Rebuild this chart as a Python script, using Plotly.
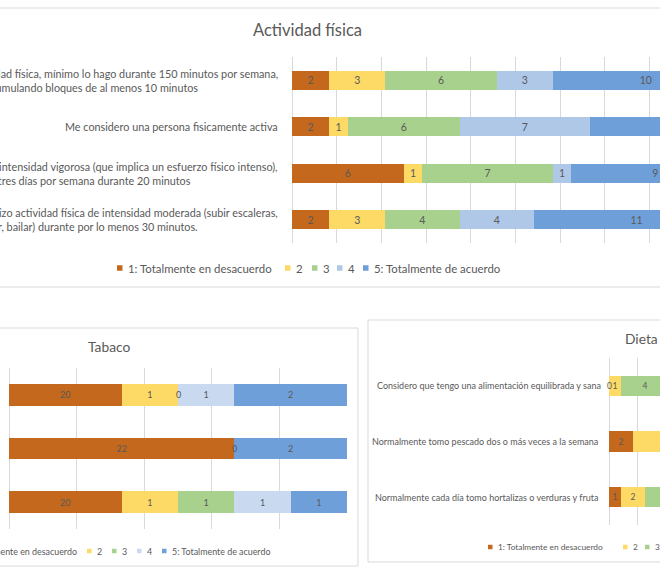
import plotly.graph_objects as go

W, H = 660, 577
FONT = 'Lato'
GRIS = '#595959'
LINEA = '#d9d9d9'

niveles = ['1: Totalmente en desacuerdo', '2', '3', '4', '5: Totalmente de acuerdo']
colores = ['#c4681d', '#fdd966', '#a9d18e', '#b0c8e8', '#6f9fd8']
colores_tabaco = ['#c4681d', '#fdd966', '#a9d18e', '#c9daf0', '#6f9fd8']

# Actividad física (filas de arriba abajo)
act_textos = [
    ['Cuando hago actividad física, mínimo lo hago durante 150 minutos por semana,',
     'acumulando bloques de al menos 10 minutos'],
    ['Me considero una persona fisicamente activa'],
    ['Realizo actividad física de intensidad vigorosa (que implica un esfuerzo físico intenso),',
     'al menos tres días por semana durante 20 minutos'],
    ['Realizo actividad física de intensidad moderada (subir escaleras,',
     'caminar, nadar, bailar) durante por lo menos 30 minutos.'],
]
act_1 = [2, 2, 6, 2]
act_2 = [3, 1, 1, 3]
act_3 = [6, 6, 7, 4]
act_4 = [3, 7, 1, 4]
act_5 = [10, 8, 9, 11]

# Tabaco: largo de cada tramo y número que muestra la etiqueta
tab_largo_1 = [2, 4, 2]
tab_largo_2 = [1, None, 1]
tab_largo_3 = [0, None, 1]
tab_largo_4 = [1, 0, 1]
tab_largo_5 = [2, 2, 1]
tab_etiq_1 = [20, 22, 20]
tab_etiq_2 = [1, None, 1]
tab_etiq_3 = [0, None, 1]
tab_etiq_4 = [1, 0, 1]
tab_etiq_5 = [2, 2, 1]

# Dieta
die_textos = [
    'Considero que tengo una alimentación equilibrada y sana',
    'Normalmente tomo pescado dos o más veces a la semana',
    'Normalmente cada día tomo hortalizas o verduras y fruta',
]
die_1 = [0, 2, 1]
die_2 = [1, 5, 2]
die_3 = [4, 6, 6]
die_4 = [11, 6, 8]
die_5 = [8, 5, 7]


def px(x):
    return x / W


def py(y):
    return 1 - y / H


fig = go.Figure()


def barras(largos, etiquetas, n, xa, ya, cols, ancho, tam):
    for k in range(5):
        fig.add_trace(go.Bar(
            x=largos[k], y=list(range(n)), orientation='h',
            name=niveles[k], marker=dict(color=cols[k], line=dict(width=0)),
            text=[('' if (v is None or v == 0) else str(e))
                  for v, e in zip(largos[k], etiquetas[k])],
            textposition='inside', insidetextanchor='middle',
            constraintext='none', textangle=0,
            textfont=dict(family=FONT, size=tam, color=GRIS),
            width=ancho, xaxis=xa, yaxis=ya, showlegend=False,
        ))
    # las etiquetas "0" van encima, en el borde donde empieza el tramo vacío
    for r in range(n):
        fila = [(largos[k][r] or 0) for k in range(5)]
        for k in range(5):
            if largos[k][r] == 0:
                fig.add_annotation(
                    x=sum(fila[:k]) / sum(fila) * 100, y=r,
                    xref=xa, yref=ya, text=str(etiquetas[k][r]), showarrow=False,
                    xanchor='center', yanchor='middle',
                    font=dict(family=FONT, size=tam, color=GRIS))


act = [act_1, act_2, act_3, act_4, act_5]
barras(act, act, 4, 'x', 'y', colores, 0.4, 10.5)
barras([tab_largo_1, tab_largo_2, tab_largo_3, tab_largo_4, tab_largo_5],
       [tab_etiq_1, tab_etiq_2, tab_etiq_3, tab_etiq_4, tab_etiq_5],
       3, 'x2', 'y2', colores_tabaco, 0.4, 9)
die = [die_1, die_2, die_3, die_4, die_5]
barras(die, die, 3, 'x3', 'y3', colores, 0.37, 8.5)

eje_x = dict(showgrid=True, gridcolor=LINEA, gridwidth=1, zeroline=True,
             zerolinecolor=LINEA, zerolinewidth=1, showticklabels=False,
             ticks='', showline=False, tick0=0)
eje_y = dict(type='linear', showgrid=False, zeroline=False, showticklabels=False,
             showline=False, ticks='')

fig.update_layout(
    width=W, height=H,
    margin=dict(l=0, r=0, t=0, b=0),
    paper_bgcolor='white', plot_bgcolor='white',
    barmode='stack', barnorm='percent',
    font=dict(family=FONT, color=GRIS),
    xaxis=dict(eje_x, domain=[px(292), 1], range=[0, (W - 292) / 447 * 100], dtick=10),
    yaxis=dict(eje_y, domain=[py(243), py(57)], range=[3.5, -0.5]),
    xaxis2=dict(eje_x, domain=[px(9), px(347)], range=[0, 100], dtick=20, anchor='y2'),
    yaxis2=dict(eje_y, domain=[py(529), py(368)], range=[2.5, -0.5], anchor='x2'),
    xaxis3=dict(eje_x, domain=[px(609), 1], range=[0, (W - 609) / 288 * 100], dtick=10, anchor='y3'),
    yaxis3=dict(eje_y, domain=[py(525), py(358)], range=[2.5, -0.5], anchor='x3'),
)

# marcos de los gráficos
marcos = [(-20, 8, 700, 287), (-20, 328, 358, 566), (368, 320, 700, 562)]
for x0, y0, x1, y1 in marcos:
    fig.add_shape(type='rect', xref='paper', yref='paper',
                  x0=px(x0), x1=px(x1), y0=py(y0), y1=py(y1),
                  line=dict(color=LINEA, width=1), fillcolor='rgba(0,0,0,0)', layer='below')

# títulos
fig.add_annotation(text='Actividad física', x=px(307), y=py(30), xref='paper', yref='paper',
                   showarrow=False, xanchor='center', yanchor='middle',
                   font=dict(size=16.5, color=GRIS))
fig.add_annotation(text='Tabaco', x=px(109), y=py(346), xref='paper', yref='paper',
                   showarrow=False, xanchor='center', yanchor='middle',
                   font=dict(size=13.8, color=GRIS))
fig.add_annotation(text='Dieta', x=px(623), y=py(338), xref='paper', yref='paper',
                   showarrow=False, xanchor='left', yanchor='middle',
                   font=dict(size=13.8, color=GRIS))

# etiquetas de categoría
act_fin = [[280, 200], [280], [280, 193], [280, 200]]
for i, lineas in enumerate(act_textos):
    n = len(lineas)
    for j, t in enumerate(lineas):
        fig.add_annotation(text=t, x=px(act_fin[i][j]), y=i, xref='paper', yref='y',
                           yshift=(n - 1) * 7 - 14 * j, showarrow=False,
                           xanchor='right', yanchor='middle',
                           font=dict(size=10.8, color=GRIS))
die_fin = [603, 600, 600]
for i, t in enumerate(die_textos):
    fig.add_annotation(text=t, x=px(die_fin[i]), y=i, xref='paper', yref='y3',
                       showarrow=False, xanchor='right', yanchor='middle',
                       font=dict(size=9.0, color=GRIS))


# leyendas
def leyenda(xs, y, cols, tam, lado):
    for k, x in enumerate(xs):
        fig.add_shape(type='rect', xref='paper', yref='paper',
                      x0=px(x), x1=px(x + lado), y0=py(y - lado / 2), y1=py(y + lado / 2),
                      line=dict(width=0), fillcolor=cols[k])
        fig.add_annotation(text=niveles[k], x=px(x + lado + 3), y=py(y), xref='paper', yref='paper',
                           showarrow=False, xanchor='left', yanchor='middle',
                           font=dict(size=tam, color=GRIS))


leyenda([117, 285, 312, 337, 363], 268, colores, 11.4, 5.5)
leyenda([-45, 87, 112, 137, 162], 551, colores_tabaco, 8.9, 4.5)
leyenda([488, 623, 645, 670, 700], 547, colores, 8.3, 4.5)

fig.write_html("out.html", config={'displayModeBar': False},
               post_script="document.body.style.margin='0';")
